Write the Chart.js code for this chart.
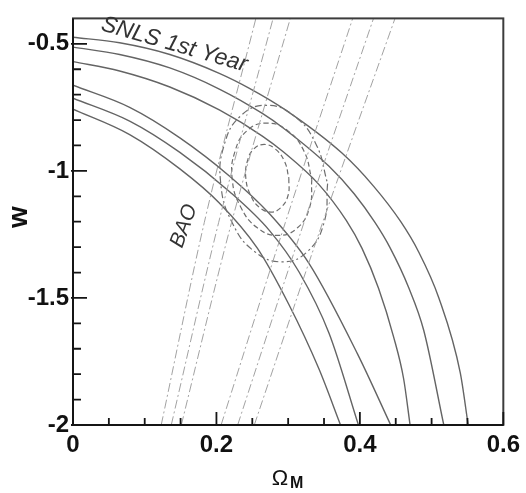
<!DOCTYPE html>
<html>
<head>
<meta charset="utf-8">
<title>SNLS + BAO constraints on w and Omega_M</title>
<script src="https://cdn.jsdelivr.net/npm/chart.js@4.4.1/dist/chart.umd.min.js"></script>
<style>
  html, body { margin: 0; padding: 0; background: #ffffff; }
  canvas { display: block; }
</style>
</head>
<body>
<canvas id="chart" width="526" height="493"></canvas>
<script>
// ---- axis ticks ----
const xTicks = [0, 0.2, 0.4, 0.6];
const xTickLabels = ['0', '0.2', '0.4', '0.6'];
const yTicks = [-2, -1.5, -1, -0.5];
const yTickLabels = ['-2', '-1.5', '-1', '-0.5'];
const xMinorTicks = [0.05, 0.1, 0.15, 0.25, 0.3, 0.35, 0.45, 0.5, 0.55];
const yMinorTicks = [-1.9, -1.8, -1.7, -1.6, -1.4, -1.3, -1.2, -1.1, -0.9, -0.8, -0.7, -0.6];

// ---- SNLS 1st Year contours (68.3 / 95.4 / 99.7 %), upper and lower edges ----
const snls68HiOm  = [0, 0.065, 0.135, 0.204, 0.264, 0.294, 0.343, 0.381, 0.403, 0.426, 0.447, 0.461, 0.470];
const snls68HiW   = [-0.570, -0.607, -0.670, -0.760, -0.863, -0.927, -1.054, -1.195, -1.305, -1.462, -1.653, -1.818, -2.000];
const snls95HiOm  = [0, 0.065, 0.135, 0.204, 0.264, 0.294, 0.357, 0.392, 0.421, 0.442, 0.468, 0.489, 0.517];
const snls95HiW   = [-0.513, -0.542, -0.595, -0.678, -0.774, -0.833, -0.982, -1.090, -1.203, -1.302, -1.459, -1.627, -2.000];
const snls997HiOm = [0, 0.065, 0.135, 0.204, 0.246, 0.294, 0.375, 0.419, 0.457, 0.482, 0.510, 0.540, 0.551];
const snls997HiW  = [-0.474, -0.496, -0.542, -0.616, -0.675, -0.756, -0.930, -1.060, -1.200, -1.319, -1.499, -1.795, -2.000];
const snls68LoOm  = [0, 0.079, 0.149, 0.218, 0.274, 0.329, 0.397, 0.443];
const snls68LoW   = [-0.663, -0.750, -0.870, -1.020, -1.169, -1.364, -1.722, -2.000];
const snls95LoOm  = [0, 0.079, 0.149, 0.218, 0.274, 0.315, 0.357, 0.398];
const snls95LoW   = [-0.714, -0.804, -0.927, -1.081, -1.235, -1.397, -1.639, -2.000];
const snls997LoOm = [0, 0.079, 0.149, 0.204, 0.257, 0.301, 0.343, 0.373];
const snls997LoW  = [-0.757, -0.857, -0.992, -1.126, -1.304, -1.526, -1.780, -2.000];

// ---- BAO band edges ----
const baoW          = [-2.0, -1.204, -0.4];
const bao68LeftOm   = [0.151, 0.221, 0.303];
const bao95LeftOm   = [0.137, 0.203, 0.279];
const bao997LeftOm  = [0.123, 0.183, 0.255];
const bao68RightOm  = [0.2065, 0.296, 0.390];
const bao95RightOm  = [0.2296, 0.322, 0.419];
const bao997RightOm = [0.2528, 0.348, 0.449];

// ---- combined SNLS + BAO contours (closed loops) ----
const comb68Om  = [0.301, 0.300, 0.290, 0.276, 0.260, 0.2475, 0.241, 0.243, 0.252, 0.2665, 0.282, 0.295, 0.301];
const comb68W   = [-1.029, -1.095, -1.144, -1.162, -1.144, -1.095, -1.029, -0.963, -0.914, -0.896, -0.914, -0.963, -1.029];
const comb95Om  = [0.333, 0.330, 0.313, 0.286, 0.257, 0.234, 0.222, 0.226, 0.243, 0.270, 0.299, 0.322, 0.333];
const comb95W   = [-1.033, -1.143, -1.224, -1.254, -1.224, -1.143, -1.033, -0.922, -0.841, -0.812, -0.841, -0.922, -1.033];
const comb997Om = [0.355, 0.350, 0.327, 0.292, 0.253, 0.222, 0.206, 0.211, 0.234, 0.269, 0.308, 0.339, 0.355];
const comb997W  = [-1.050, -1.204, -1.317, -1.358, -1.317, -1.204, -1.050, -0.896, -0.783, -0.742, -0.783, -0.896, -1.050];

const pts = (xs, ys) => xs.map((x, i) => ({ x: x, y: ys[i] }));

// open curves are monotone in Omega_M, so use monotone cubic interpolation
function openCurve(xs, ys, color, width, dash) {
  return {
    data: pts(xs, ys),
    showLine: true,
    borderColor: color,
    borderWidth: width,
    borderDash: dash,
    pointRadius: 0,
    cubicInterpolationMode: 'monotone',
    fill: false
  };
}

function loopCurve(xs, ys, color, width, dash) {
  return {
    data: pts(xs, ys),
    showLine: true,
    borderColor: color,
    borderWidth: width,
    borderDash: dash,
    pointRadius: 0,
    tension: 0.45,
    fill: false
  };
}

const BAO_COLOR = '#a2a2a2';
const BAO_DASH = [9, 3, 2, 3];
const COMB_COLOR = '#6e6e6e';
const SN_COLOR = '#646464';

const datasets = [
  openCurve(bao68LeftOm, baoW, BAO_COLOR, 1, BAO_DASH),
  openCurve(bao95LeftOm, baoW, BAO_COLOR, 1, BAO_DASH),
  openCurve(bao997LeftOm, baoW, BAO_COLOR, 1, BAO_DASH),
  openCurve(bao68RightOm, baoW, BAO_COLOR, 1, BAO_DASH),
  openCurve(bao95RightOm, baoW, BAO_COLOR, 1, BAO_DASH),
  openCurve(bao997RightOm, baoW, BAO_COLOR, 1, BAO_DASH),
  loopCurve(comb68Om, comb68W, COMB_COLOR, 1.2, [5, 3]),
  loopCurve(comb95Om, comb95W, COMB_COLOR, 1.2, [5, 3]),
  loopCurve(comb997Om, comb997W, COMB_COLOR, 1.2, [7, 3, 2, 3]),
  openCurve(snls68HiOm, snls68HiW, SN_COLOR, 1.4, []),
  openCurve(snls95HiOm, snls95HiW, SN_COLOR, 1.4, []),
  openCurve(snls997HiOm, snls997HiW, SN_COLOR, 1.4, []),
  openCurve(snls68LoOm, snls68LoW, SN_COLOR, 1.4, []),
  openCurve(snls95LoOm, snls95LoW, SN_COLOR, 1.4, []),
  openCurve(snls997LoOm, snls997LoW, SN_COLOR, 1.4, [])
];

const TICK_FONT = { family: '"Liberation Sans", Arial, sans-serif', weight: 'bold', size: 24 };

// Frame, inward tick marks, in-plot labels and axis titles
const decorations = {
  id: 'decorations',
  afterDatasetsDraw(chart) {
    const { ctx, chartArea: a, scales } = chart;
    const sx = scales.x, sy = scales.y;
    ctx.save();

    ctx.strokeStyle = '#3c3c3c';
    ctx.lineWidth = 2;
    ctx.strokeRect(a.left, a.top, a.right - a.left, a.bottom - a.top);

    ctx.strokeStyle = '#151515';
    ctx.lineWidth = 2;
    ctx.beginPath();
    ctx.moveTo(a.left, a.top);
    ctx.lineTo(a.left, a.bottom);
    ctx.lineTo(a.right, a.bottom);
    ctx.stroke();

    ctx.lineWidth = 1.8;
    ctx.beginPath();
    xTicks.forEach(v => {
      const p = sx.getPixelForValue(v);
      ctx.moveTo(p, a.bottom); ctx.lineTo(p, a.bottom - 13);
    });
    xMinorTicks.forEach(v => {
      const p = sx.getPixelForValue(v);
      ctx.moveTo(p, a.bottom); ctx.lineTo(p, a.bottom - 7);
    });
    yTicks.forEach(v => {
      const p = sy.getPixelForValue(v);
      ctx.moveTo(a.left - 2, p); ctx.lineTo(a.left + 14, p);
    });
    yMinorTicks.forEach(v => {
      const p = sy.getPixelForValue(v);
      ctx.moveTo(a.left, p); ctx.lineTo(a.left + 8, p);
    });
    ctx.stroke();

    // curve labels
    ctx.fillStyle = '#333333';
    ctx.font = 'italic 23px "Liberation Sans", Arial, sans-serif';
    ctx.textAlign = 'left';
    ctx.textBaseline = 'alphabetic';
    ctx.save();
    ctx.translate(100, 30);
    ctx.rotate(16 * Math.PI / 180);
    ctx.fillText('SNLS 1st Year', 0, 0);
    ctx.restore();

    ctx.font = 'italic 21px "Liberation Sans", Arial, sans-serif';
    ctx.textAlign = 'center';
    ctx.textBaseline = 'middle';
    ctx.save();
    ctx.translate(184, 226);
    ctx.rotate(-70 * Math.PI / 180);
    ctx.fillText('BAO', 0, 0);
    ctx.restore();

    // axis titles
    ctx.fillStyle = '#111111';
    ctx.font = 'bold 28px "Liberation Sans", Arial, sans-serif';
    ctx.textAlign = 'center';
    ctx.textBaseline = 'alphabetic';
    ctx.save();
    ctx.translate(27, 217);
    ctx.rotate(-Math.PI / 2);
    ctx.fillText('w', 0, 0);
    ctx.restore();

    ctx.font = '22px "Liberation Sans", Arial, sans-serif';
    ctx.textAlign = 'center';
    ctx.fillText('\u03A9', 280, 485);
    ctx.font = 'bold 16px "Liberation Sans", Arial, sans-serif';
    ctx.textAlign = 'left';
    ctx.fillText('M', 290, 488);

    ctx.restore();
  }
};

new Chart(document.getElementById('chart'), {
  type: 'scatter',
  data: { datasets: datasets },
  options: {
    responsive: false,
    animation: false,
    devicePixelRatio: 1,
    layout: { padding: { top: 9, right: 21, left: 0, bottom: 0 } },
    plugins: { legend: { display: false }, tooltip: { enabled: false } },
    scales: {
      x: {
        type: 'linear',
        min: 0,
        max: 0.6,
        grid: { display: false, drawTicks: false },
        border: { display: false },
        afterFit: (scale) => { scale.height = 68; },
        afterBuildTicks: (scale) => { scale.ticks = xTicks.map(v => ({ value: v })); },
        ticks: {
          padding: 6,
          color: '#111111',
          font: TICK_FONT,
          maxRotation: 0,
          autoSkip: false,
          callback: (v, i) => xTickLabels[i]
        }
      },
      y: {
        type: 'linear',
        min: -2,
        max: -0.4,
        grid: { display: false, drawTicks: false },
        border: { display: false },
        afterFit: (scale) => { scale.width = 73; },
        afterBuildTicks: (scale) => { scale.ticks = yTicks.map(v => ({ value: v })); },
        ticks: {
          padding: 4,
          color: '#111111',
          font: TICK_FONT,
          autoSkip: false,
          callback: (v, i) => yTickLabels[i]
        }
      }
    }
  },
  plugins: [decorations]
});
</script>
</body>
</html>
